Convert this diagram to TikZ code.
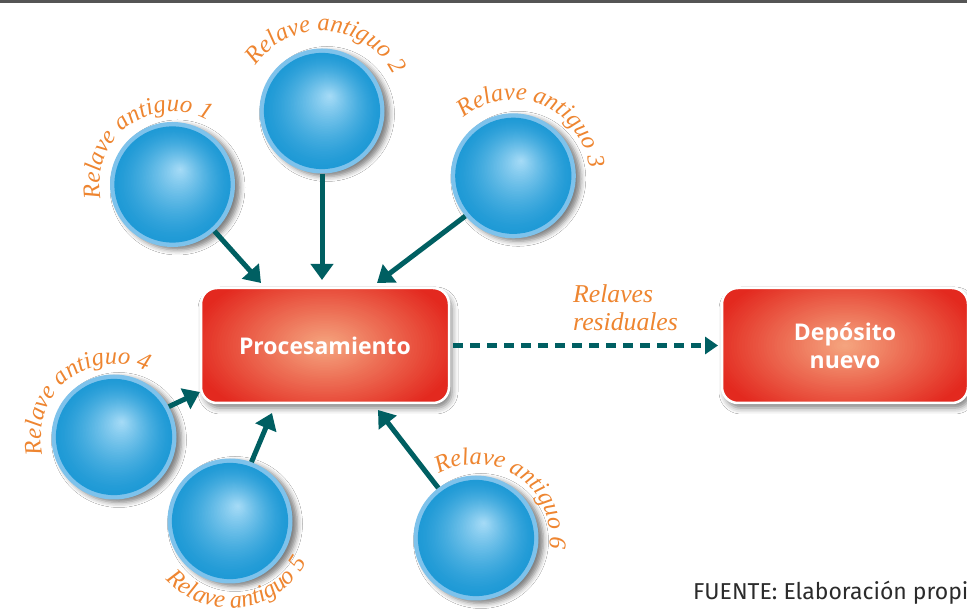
\documentclass[tikz,border=0pt]{standalone}
\usepackage{fontspec}
\newfontfamily\boxfont{Open Sans}
\newfontfamily\footfont{Fira Sans}
\newfontfamily\lblserif{Liberation Serif}
\usetikzlibrary{arrows.meta,decorations.text,shadows,shadows.blur,calc}
\definecolor{sphhl}{HTML}{A8DCF7}
\definecolor{sphedge}{HTML}{1F9AD6}
\definecolor{sphrim}{HTML}{7EC2EB}
\definecolor{boxc}{HTML}{F5A680}
\definecolor{boxedge}{HTML}{E3291F}
\definecolor{arrowteal}{HTML}{005F62}
\definecolor{lblorange}{HTML}{EE8530}
\definecolor{footgray}{HTML}{2B2B2B}
\definecolor{rulegray}{HTML}{555555}
\newcommand\lblfont{\lblserif\itshape\fontsize{24.5}{24.5}\selectfont}
\begin{document}
\begin{tikzpicture}[x=1pt,y=1pt,
  sph/.style={circle, minimum size=125pt, inner sep=0pt, fill=sphrim,
    path picture={
      \foreach \i in {0,...,44}{
        \pgfmathsetmacro\myt{\i/44}
        \pgfmathsetmacro\myp{100*(\myt^1.4)}
        \pgfmathsetmacro\myr{57.5*(1-\myt)+0.6}
        \fill[sphhl!\myp!sphedge] ($(path picture bounding box.center)+(8*\myt,15*\myt)$) circle[radius=\myr];
      }},
    blur shadow={shadow xshift=5pt, shadow yshift=-3pt, shadow blur radius=5pt, shadow opacity=50}},
  redbox/.style={rectangle, rounded corners=16pt, minimum height=115pt, fill=boxedge, draw=white, line width=2.5pt,
    text=white, font=\boxfont\bfseries\fontsize{23}{28}\selectfont, align=center,
    path picture={
      \foreach \i in {0,...,50}{
        \pgfmathsetmacro\myt{\i/50}
        \pgfmathsetmacro\myp{100*\myt}
        \pgfmathsetmacro\myrx{135*(1-\myt)+0.6}
        \pgfmathsetmacro\myry{80*(1-\myt)+0.6}
        \fill[boxc!\myp!boxedge] (path picture bounding box.center) ellipse[x radius=\myrx, y radius=\myry];
      }},
    blur shadow={shadow xshift=3pt, shadow yshift=-5pt, shadow blur radius=6pt, shadow opacity=50}},
  arr/.style={draw=arrowteal, line width=5pt, -{Triangle[width=22pt,length=16pt]}},
  dasharr/.style={draw=arrowteal, line width=5pt, dash pattern=on 10pt off 7pt, shorten <=3pt, -{Triangle[width=17pt,length=13pt]}},
  lbl/.style={decorate, decoration={text along path, text align=center, text color=lblorange}},
]
\useasboundingbox (0,0) rectangle (967,610);
\fill[white] (0,0) rectangle (967,610);
\draw[rulegray, line width=3pt] (0,608.5) -- (967,608.5);

% boxes
\node[redbox, minimum width=248pt] (proc) at (325,264.5) {Procesamiento};
\node[redbox, minimum width=246pt] (dep) at (845,264.5) {Depósito\\nuevo};

% spheres
\node[sph] (c1) at (172.5,425.5) {};
\node[sph] (c2) at (322,499) {};
\node[sph] (c3) at (513.3,434.2) {};
\node[sph] (c4) at (114,173) {};
\node[sph] (c5) at (230,89) {};
\node[sph] (c6) at (476,72) {};

% arrow tips
\coordinate (t1) at (261,327);
\coordinate (t2) at (322,330);
\coordinate (t3) at (377,327);
\coordinate (t4) at (200,218);
\coordinate (t5) at (272,197);
\coordinate (t6) at (378,200);
\coordinate (td) at (718,264.5);

\draw[arr] (c1.312) -- (t1);
\draw[arr] (c2.270) -- (t2);
\draw[arr] (c3.220) -- (t3);
\draw[arr] (c4.29) -- (t4);
\draw[arr] (c5.70) -- (t5);
\draw[arr] (c6.127) -- (t6);
\draw[dasharr] (proc.east) -- (td);

% curved labels
\path[lbl, decoration={text={|\lblfont|Relave antiguo 1}}] ($(c1)+(206:73)$) arc[start angle=206, end angle=46, radius=73];
\path[lbl, decoration={text={|\lblfont|Relave antiguo 2}}] ($(c2)+(166:80)$) arc[start angle=166, end angle=6, radius=80];
\path[lbl, decoration={text={|\lblfont|Relave antiguo 3}}] ($(c3)+(148:76)$) arc[start angle=148, end angle=-12, radius=76];
\path[lbl, decoration={text={|\lblfont|Relave antiguo 4}}] ($(c4)+(208.5:73)$) arc[start angle=208.5, end angle=48.5, radius=73];
\path[lbl, decoration={text={|\lblfont|Relave antiguo 5}}] ($(c5)+(197:87)$) arc[start angle=197, end angle=357, radius=87];
\path[lbl, decoration={text={|\lblfont|Relave antiguo 6}}] ($(c6)+(136:74)$) arc[start angle=136, end angle=-24, radius=74];

\node[anchor=base west, inner sep=0pt, align=left, text=lblorange, font=\lblserif\itshape\fontsize{25.7}{28.5}\selectfont] (rr) at (573,279) {Relaves\\residuales};

\node[anchor=base west, inner sep=0pt, text=footgray, font=\footfont\fontsize{23}{23}\selectfont] (src) at (693,10) {FUENTE: Elaboración propi};
\end{tikzpicture}
\end{document}
